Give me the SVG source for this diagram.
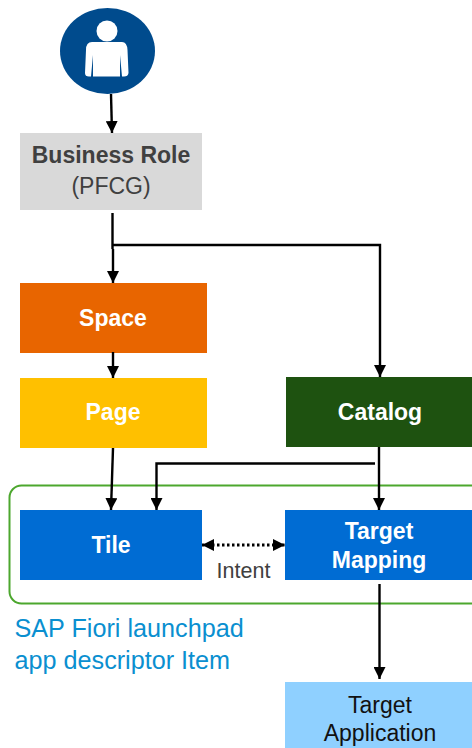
<svg xmlns="http://www.w3.org/2000/svg" width="472" height="748" viewBox="0 0 472 748">
<style>
text{font-family:"Liberation Sans",Arial,sans-serif;text-anchor:middle}
.w{fill:#fff;font-weight:bold;font-size:23px}
.d{fill:#404040;font-size:23px}
.l{fill:none;stroke:#000;stroke-width:2.4}
</style>
<defs>
<marker id="a" markerUnits="userSpaceOnUse" markerWidth="13" markerHeight="12" refX="12" refY="6" orient="auto"><path d="M0 0L12 6L0 12z" fill="#000"/></marker>
<marker id="b" markerUnits="userSpaceOnUse" markerWidth="13" markerHeight="12" refX="1" refY="6" orient="auto"><path d="M13 0L1 6L13 12z" fill="#000"/></marker>
</defs>
<rect width="472" height="748" fill="#fff"/>
<g id="app-descriptor">
<rect x="9.500" y="485.500" width="480" height="118" rx="12" fill="none" stroke="#4ca72e" stroke-width="2"/>
<text x="14.500" y="637" style="text-anchor:start" fill="#0a8fd0" font-size="25.200">SAP Fiori launchpad</text>
<text x="14.500" y="669" style="text-anchor:start" fill="#0a8fd0" font-size="25.200">app descriptor Item</text>
</g>
<g id="user">
<ellipse cx="107.500" cy="51" rx="47.500" ry="43" fill="#004b8d"/>
<circle cx="107" cy="31" r="10.500" fill="#fff"/>
<path d="M92 42H122Q127 42 127.500 50L128.500 73Q128 76.500 124 76.500H122L120 55V76.500H93V55L91 76.500H89Q85 76.500 85 73L86 50Q86 42 92 42Z" fill="#fff"/>
</g>
<g id="business-role">
<rect x="20" y="133" width="182" height="77" fill="#d9d9d9"/>
<text x="111" y="162.500" style="font-weight:bold" class="d">Business Role</text>
<text x="111" y="193.500" class="d">(PFCG)</text>
</g>
<g id="space">
<rect x="20" y="283" width="187" height="70" fill="#e86500"/>
<text x="113" y="325.500" class="w">Space</text>
</g>
<g id="page">
<rect x="20" y="378" width="187" height="70" fill="#ffc000"/>
<text x="113" y="420" class="w">Page</text>
</g>
<g id="catalog">
<rect x="286" y="377" width="186" height="70" fill="#1e5210"/>
<text x="380" y="419.500" class="w">Catalog</text>
</g>
<g id="tile">
<rect x="20" y="510" width="182" height="70" fill="#006cd3"/>
<text x="111" y="553" class="w">Tile</text>
</g>
<g id="target-mapping">
<rect x="285" y="510" width="187" height="70" fill="#006cd3"/>
<text x="379" y="538.500" class="w">Target</text>
<text x="379" y="568" class="w">Mapping</text>
</g>
<g id="target-application">
<rect x="285" y="682" width="187" height="66" fill="#8fd0ff"/>
<text x="380" y="712.500" fill="#111" style="font-size:23px">Target</text>
<text x="380" y="741" fill="#111" style="font-size:23px">Application</text>
</g>
<text x="243.500" y="578" fill="#404040" font-size="21.500">Intent</text>
<g id="connectors">
<path class="l" marker-end="url(#a)" d="M111 94L112 133"/>
<path class="l" marker-end="url(#a)" d="M112.500 213V249M113 249V283"/>
<path class="l" marker-end="url(#a)" d="M113 245H380V377"/>
<path class="l" marker-end="url(#a)" d="M113 352V378"/>
<path class="l" marker-end="url(#a)" d="M113 448L111 510"/>
<path class="l" marker-end="url(#a)" d="M375 463.500H156.500V510"/>
<path class="l" marker-end="url(#a)" d="M379 447V510"/>
<path class="l" marker-end="url(#a)" d="M379.500 584V679"/>
<path class="l" marker-start="url(#b)" marker-end="url(#a)" stroke-width="3" stroke-dasharray="2.500 2.500" style="stroke-width:3" d="M202 545H285"/>
</g>
</svg>
